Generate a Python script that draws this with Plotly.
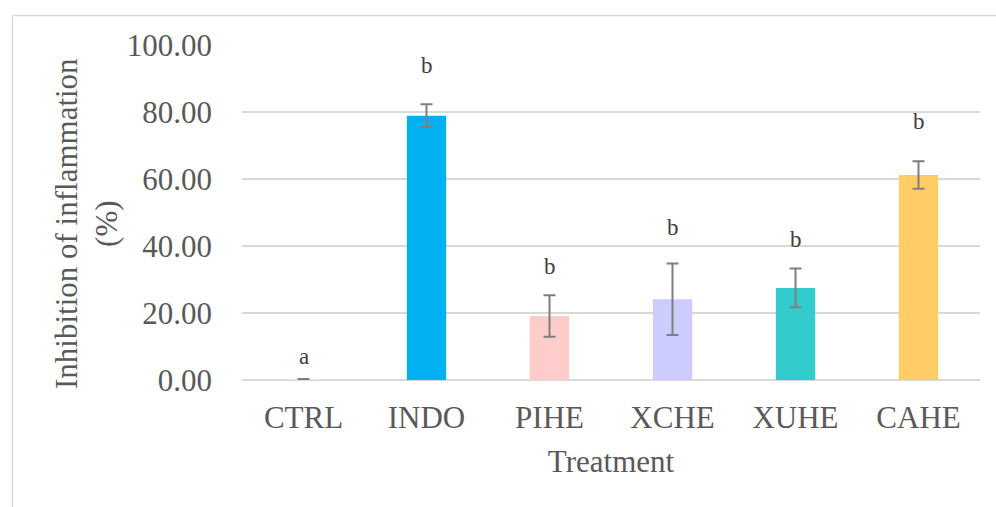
import plotly.graph_objects as go

categories = ["CTRL", "INDO", "PIHE", "XCHE", "XUHE", "CAHE"]
values = [0.3, 78.9, 19.1, 24.1, 27.5, 61.2]
errors = [0.0, 3.4, 6.2, 10.7, 5.8, 4.1]
colors = ["#E4E4E4", "#00B0F0", "#FFCCCC", "#CCCCFF", "#33CCCC", "#FFCC66"]
letters = ["a", "b", "b", "b", "b", "b"]
letter_y = [6.9, 93.8, 33.8, 45.4, 41.8, 77.1]
y_ticks = [0, 20, 40, 60, 80, 100]

FONT = "Liberation Serif, Times New Roman, serif"

fig = go.Figure()
fig.add_trace(go.Bar(
    x=categories, y=values,
    marker=dict(color=colors, line=dict(width=0)),
    error_y=dict(type="data", array=errors, visible=True,
                 color="#7F7F7F", thickness=2, width=6),
    width=0.32,
    showlegend=False,
))

for c, t, yy in zip(categories, letters, letter_y):
    fig.add_annotation(x=c, y=yy, text=t, showarrow=False,
                       xref="x", yref="y", yanchor="middle",
                       font=dict(family=FONT, size=23, color="#404040"))

W, H = 996, 507
L, R, T, B = 242, 16, 45, 127
pw = W - L - R
ph = H - T - B
top_border = (H - 15.5 - B) / ph
left_border = (12.5 - L) / pw
fig.add_shape(type="line", xref="paper", yref="paper",
              x0=left_border, x1=(W + 5 - L) / pw, y0=top_border, y1=top_border,
              line=dict(color="#D9D9D9", width=1.5))
fig.add_shape(type="line", xref="paper", yref="paper",
              x0=left_border, x1=left_border, y0=top_border, y1=-(B + 5) / ph,
              line=dict(color="#D9D9D9", width=1.5))

# y-axis title as a rotated annotation
fig.add_annotation(text="Inhibition of inflammation<br>(%)", textangle=-90,
                   xref="paper", yref="paper",
                   x=(86 - L) / pw, y=(H - B - 224) / ph,
                   xanchor="center", yanchor="middle", showarrow=False,
                   font=dict(family=FONT, size=31, color="#595959"))

fig.update_layout(
    width=W, height=H,
    margin=dict(l=L, r=R, t=T, b=B, pad=0),
    paper_bgcolor="white", plot_bgcolor="white",
    font=dict(family=FONT, color="#595959"),
    xaxis=dict(
        showgrid=False, showline=False, zeroline=False,
        tickfont=dict(family=FONT, size=31, color="#595959"),
        ticks="", ticklabelstandoff=16,
        title=dict(text="Treatment", font=dict(family=FONT, size=31, color="#595959"),
                   standoff=16),
    ),
    yaxis=dict(
        range=[0, 100], tickvals=y_ticks, tickformat=".2f",
        showgrid=True, gridcolor="#D9D9D9", gridwidth=1.5,
        zeroline=True, zerolinecolor="#D9D9D9", zerolinewidth=1.5,
        showline=False, ticks="",
        tickfont=dict(family=FONT, size=31, color="#595959"),
        ticklabelstandoff=29,
    ),
    bargap=0.68,
)

fig.write_html("out.html")
